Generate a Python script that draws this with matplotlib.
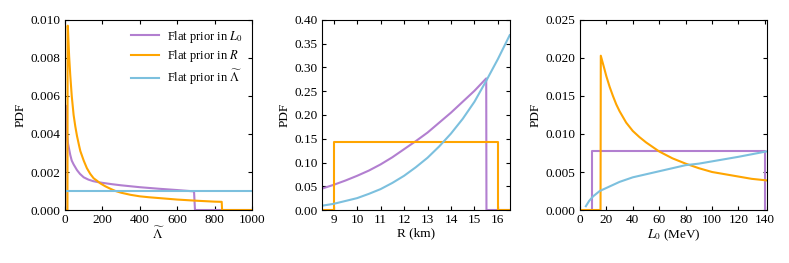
import matplotlib
matplotlib.use('Agg')
import matplotlib.pyplot as plt
import numpy as np

plt.rcParams['font.family'] = ['Liberation Serif', 'DejaVu Serif']
plt.rcParams['mathtext.fontset'] = 'stix'
plt.rcParams['font.size'] = 9.5

c_L0 = '#b27fd0'
c_R = '#ffa500'
c_Lam = '#7cc0de'

# panel 1: Lambda tilde
lam_L0_x = [2, 3, 5, 8, 12, 16, 20, 28, 36, 46, 55, 64, 80, 100, 125, 150, 175, 200, 250, 300,
            400, 500, 600, 690, 695, 700, 1000]
lam_L0_y = [0.0, 0.0055, 0.0050, 0.0044, 0.0039, 0.0035, 0.0033, 0.0029, 0.0026, 0.0024, 0.00225,
            0.0021, 0.0019, 0.00172, 0.0016, 0.00152, 0.00147, 0.00143, 0.00136, 0.0013,
            0.0012, 0.00112, 0.00105, 0.00098, 0.0, 0.0, 0.0]
lam_R_x = [0, 13, 14, 15, 18, 22, 28, 36, 46, 55, 64, 75, 82, 100, 117, 135, 153, 171, 189, 215,
           242, 270, 300, 350, 400, 450, 500, 600, 700, 800, 838, 840, 1000]
lam_R_y = [0.0, 0.0, 0.0097, 0.0097, 0.0090, 0.0081, 0.0071, 0.0060, 0.0050, 0.0044, 0.0039,
           0.0034, 0.0031, 0.0026, 0.0022, 0.0019, 0.00167, 0.00154, 0.0014, 0.00125,
           0.00112, 0.001, 0.00091, 0.0008, 0.00072, 0.00067, 0.00063, 0.00055, 0.00049,
           0.00044, 0.00043, 0.0, 0.0]
lam_Lam_x = [0, 1000]
lam_Lam_y = [0.001, 0.001]

# panel 2: R (km)
r_L0_x = [8.5, 9, 9.5, 10, 10.5, 11, 11.5, 12, 12.5, 13, 13.5, 14, 14.5, 15, 15.5, 15.51, 16.5]
r_L0_y = [0.045, 0.053, 0.062, 0.072, 0.083, 0.096, 0.111, 0.128, 0.145, 0.163, 0.184, 0.205,
          0.228, 0.251, 0.277, 0.0, 0.0]
r_R_x = [8.5, 9.0, 9.0, 16.0, 16.0, 16.5]
r_R_y = [0.0, 0.0, 0.143, 0.143, 0.0, 0.0]
r_Lam_x = [8.5, 9, 9.5, 10, 10.5, 11, 11.5, 12, 12.5, 13, 13.5, 14, 14.5, 15, 15.5, 16, 16.5]
r_Lam_y = [0.009, 0.013, 0.019, 0.025, 0.034, 0.044, 0.057, 0.072, 0.090, 0.110, 0.134, 0.161,
           0.192, 0.228, 0.272, 0.318, 0.368]

# panel 3: L0 (MeV)
l_L0_x = [9.5, 9.5, 140, 140]
l_L0_y = [0.0, 0.0077, 0.0077, 0.0]
l_R_x = [0, 15.6, 15.8, 18, 20, 22.5, 25, 27.5, 30, 35, 40, 45, 50, 55, 60, 70, 80, 90, 100,
         110, 120, 130, 141]
l_R_y = [0.0, 0.0, 0.0203, 0.0189, 0.0176, 0.0162, 0.0150, 0.0139, 0.0130, 0.0115, 0.0104,
         0.0096, 0.0089, 0.0083, 0.0077, 0.0068, 0.0061, 0.0055, 0.0050, 0.0047, 0.0044,
         0.0041, 0.0039]
l_Lam_x = [4.5, 7, 10, 15, 20, 25, 30, 40, 50, 60, 70, 80, 90, 100, 120, 141]
l_Lam_y = [0.0005, 0.0012, 0.0018, 0.0025, 0.0029, 0.0033, 0.0037, 0.0043, 0.0047, 0.0051,
           0.0055, 0.0059, 0.0061, 0.0064, 0.0070, 0.0077]

fig = plt.figure(figsize=(7.89, 2.63), dpi=100)
ax1 = fig.add_axes([0.0824, 0.2015, 0.237, 0.7225])
ax2 = fig.add_axes([0.408, 0.2015, 0.238, 0.7225])
ax3 = fig.add_axes([0.735, 0.2015, 0.237, 0.7225])

lw = 1.5
ax1.plot(lam_L0_x, lam_L0_y, color=c_L0, lw=lw, label=r'Flat prior in $L_0$')
ax1.plot(lam_R_x, lam_R_y, color=c_R, lw=lw, label=r'Flat prior in $R$')
ax1.plot(lam_Lam_x, lam_Lam_y, color=c_Lam, lw=lw, label=r'Flat prior in $\widetilde{\Lambda}$')
ax1.set_xlim(0, 1000)
ax1.set_ylim(0, 0.010)
ax1.set_xticks([0, 200, 400, 600, 800, 1000])
ax1.set_yticks([0, 0.002, 0.004, 0.006, 0.008, 0.010])
ax1.set_yticklabels(['%.3f' % v for v in ax1.get_yticks()])
ax1.set_xlabel(r'$\widetilde{\Lambda}$', labelpad=0)
ax1.set_ylabel('PDF', labelpad=3)
ax1.legend(loc='upper right', frameon=False, handlelength=2.2, handletextpad=0.7,
           borderaxespad=0.3, labelspacing=0.3, fontsize=9)

ax2.plot(r_L0_x, r_L0_y, color=c_L0, lw=lw)
ax2.plot(r_R_x, r_R_y, color=c_R, lw=lw)
ax2.plot(r_Lam_x, r_Lam_y, color=c_Lam, lw=lw)
ax2.set_xlim(8.5, 16.5)
ax2.set_ylim(0, 0.40)
ax2.set_xticks([9, 10, 11, 12, 13, 14, 15, 16])
ax2.set_yticks(np.arange(0, 0.41, 0.05))
ax2.set_yticklabels(['%.2f' % v for v in ax2.get_yticks()])
ax2.set_xlabel('R (km)', labelpad=1)
ax2.set_ylabel('PDF', labelpad=3)

ax3.plot(l_L0_x, l_L0_y, color=c_L0, lw=lw)
ax3.plot(l_R_x, l_R_y, color=c_R, lw=lw)
ax3.plot(l_Lam_x, l_Lam_y, color=c_Lam, lw=lw)
ax3.set_xlim(0, 141.5)
ax3.set_ylim(0, 0.025)
ax3.set_xticks([0, 20, 40, 60, 80, 100, 120, 140])
ax3.set_yticks([0, 0.005, 0.010, 0.015, 0.020, 0.025])
ax3.set_yticklabels(['%.3f' % v for v in ax3.get_yticks()])
ax3.set_xlabel(r'$L_0$ (MeV)', labelpad=1)
ax3.set_ylabel('PDF', labelpad=3)

for ax in (ax1, ax2, ax3):
    ax.tick_params(direction='in', top=True, right=True, length=3, width=0.8, pad=3)
    for s in ax.spines.values():
        s.set_linewidth(0.8)

fig.savefig('out.png', dpi=100)
